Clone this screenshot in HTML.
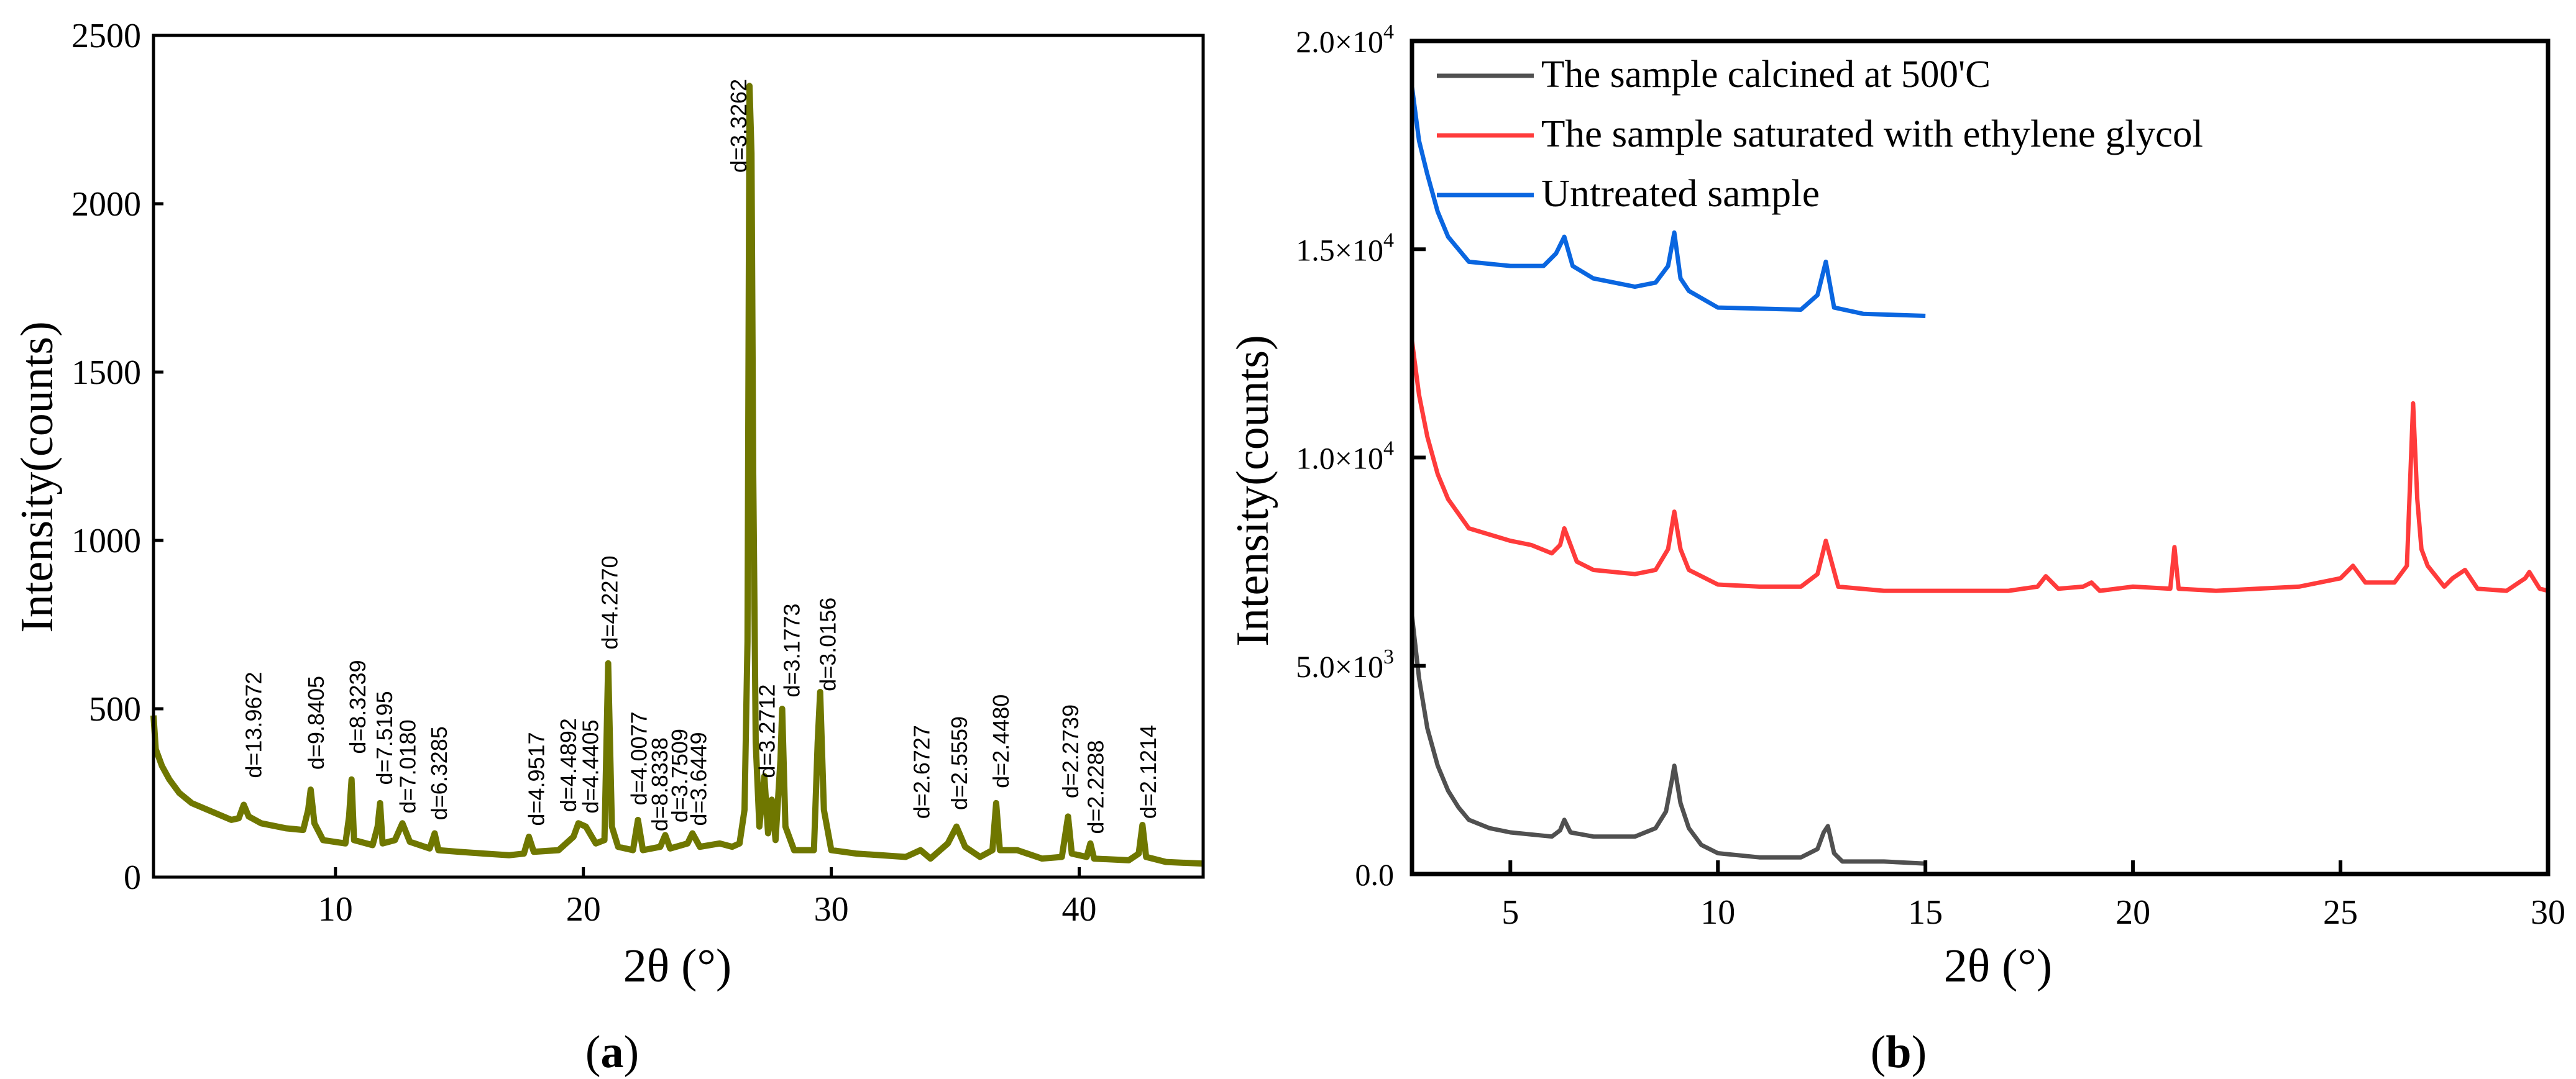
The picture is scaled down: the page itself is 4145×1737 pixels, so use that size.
<!DOCTYPE html>
<html><head><meta charset="utf-8"><style>
html,body{margin:0;padding:0;background:#fff;}
svg{display:block;}
text{font-family:"Liberation Serif",serif;fill:#000;}
</style></head><body>
<svg id="fig" width="4145" height="1737" viewBox="0 0 4145 1737" xmlns="http://www.w3.org/2000/svg">
<g id="chartA"></g>
<g id="chartB"></g>
</svg>
<script>
// ---- Chart (a) data ----
const aX = [2.66,2.75,3,3.3,3.7,4.2,5,5.8,6.1,6.3,6.5,7,8,8.7,8.9,9.0,9.15,9.5,10.4,10.55,10.65,10.75,11.5,11.7,11.8,11.9,12.4,12.7,13,13.8,14.0,14.15,15,16,17,17.6,17.8,18.0,19,19.6,19.8,20.1,20.5,20.85,21.0,21.15,21.4,22.0,22.2,22.4,23.1,23.3,23.5,24.2,24.4,24.7,25.5,26.0,26.3,26.5,26.62,26.7,26.78,26.85,26.95,27.1,27.3,27.45,27.6,27.75,27.95,28.02,28.15,28.5,29.3,29.45,29.55,29.7,30,31,32,33,33.6,34,34.7,35.05,35.4,36,36.5,36.65,36.8,37.5,38.5,39.3,39.55,39.7,40.3,40.45,40.6,42,42.4,42.55,42.7,43.5,45];
const aY = [480,380,330,290,250,220,195,170,175,215,180,160,145,140,200,260,160,110,100,180,290,110,95,150,220,100,110,160,105,85,130,80,75,70,65,70,120,75,80,120,160,150,100,110,635,150,90,80,170,80,90,125,85,100,130,90,100,90,100,200,700,2350,2150,1200,400,150,300,130,230,110,350,500,150,80,80,400,550,200,80,70,65,60,80,55,100,150,90,60,80,220,80,80,55,60,180,70,60,100,55,50,70,155,60,45,40];
const aTicksX = [10,20,30,40];
const aTicksY = [0,500,1000,1500,2000,2500];
const aLabels = ["d=13.9672","d=9.8405","d=8.3239","d=7.5195","d=7.0180","d=6.3285","d=4.9517","d=4.4892","d=4.4405","d=4.2270","d=4.0077","d=8.8338","d=3.7509","d=3.6449","d=3.3262","d=3.2712","d=3.1773","d=3.0156","d=2.6727","d=2.5559","d=2.4480","d=2.2739","d=2.2288","d=2.1214"];
const aLabelX = [6.71,9.23,10.91,11.98,12.92,14.19,18.12,19.40,20.30,21.07,22.25,23.09,23.89,24.66,26.28,27.42,28.42,29.87,33.66,35.17,36.85,39.66,40.67,42.79];
const aLabelY = [294,319,366,274,189,169,152,193,189,676,213,136,162,152,2092,294,534,552,173,199,264,234,128,173];

// ---- Chart (b) data ----
const bCalX = [2.63,2.8,3.0,3.25,3.5,3.75,4,4.5,5,6,6.2,6.3,6.45,7,8,8.5,8.75,8.9,8.95,9.1,9.3,9.6,10,11,12,12.4,12.55,12.65,12.8,13,14,15];
const bCalY = [6200,4700,3500,2600,2000,1600,1300,1100,1000,900,1050,1300,1000,900,900,1100,1500,2300,2600,1700,1100,700,500,400,400,600,1000,1150,500,300,300,250];
const bEgX = [2.63,2.8,3.0,3.25,3.5,4,5,5.5,6,6.2,6.3,6.6,7,8,8.5,8.8,8.95,9.1,9.3,10,11,12,12.4,12.6,12.9,14,17,17.7,17.9,18.2,18.8,19,19.2,20,20.9,21.0,21.1,22,24,25,25.3,25.6,26.3,26.6,26.75,26.85,26.95,27.1,27.5,27.7,28.0,28.3,29,29.45,29.55,29.8,30];
const bEgY = [12800,11500,10500,9600,9000,8300,8000,7900,7700,7900,8300,7500,7300,7200,7300,7800,8700,7800,7300,6950,6900,6900,7200,8000,6900,6800,6800,6900,7150,6850,6900,7000,6800,6900,6850,7850,6850,6800,6900,7100,7400,7000,7000,7400,11300,9000,7800,7400,6900,7100,7300,6850,6800,7100,7250,6850,6800];
const bUnX = [2.63,2.8,3.0,3.25,3.5,4,5,5.8,6.1,6.3,6.5,7,8,8.5,8.8,8.95,9.1,9.3,10,12,12.4,12.6,12.8,13.5,15];
const bUnY = [18900,17600,16800,15900,15300,14700,14600,14600,14900,15300,14600,14300,14100,14200,14600,15400,14300,14000,13600,13550,13900,14700,13600,13450,13400];
const bTicksX = [5,10,15,20,25,30];
const bTickMant = ["0.0","5.0","1.0","1.5","2.0"];
const bTickExp = ["","3","4","4","4"];
const bTicksY = [0,5000,10000,15000,20000];
const bLegend = ["The sample calcined at 500'C","The sample saturated with ethylene glycol","Untreated sample"];
const bLegendWidths = [723,1065,448];

const NS = "http://www.w3.org/2000/svg";
function mk(parent, tag, attrs, txt){
  const e = document.createElementNS(NS, tag);
  for (const k in attrs) e.setAttribute(k, attrs[k]);
  if (txt !== undefined) e.textContent = txt;
  parent.appendChild(e);
  return e;
}

// ---- Draw chart (a) ----
(function(){
  const g = document.getElementById('chartA');
  const L=247, R=1936, T=57, B=1412, xmin=2.66, xmax=45, ymax=2500;
  const sx = v => L + (v - xmin) / (xmax - xmin) * (R - L);
  const sy = v => B - v / ymax * (B - T);
  let d = aX.map((x,i)=>(i?'L':'M')+sx(x).toFixed(1)+','+sy(aY[i]).toFixed(1)).join('');
  const p = mk(g,'path',{d:d,fill:'none',stroke:'#6f7700','stroke-width':10,'stroke-linejoin':'round'});
  
  
  const fr = mk(g,'rect',{x:L,y:T,width:R-L,height:B-T,fill:'none',stroke:'#000','stroke-width':5});
  
  
  aTicksX.forEach(v=>{
    const t = mk(g,'line',{x1:sx(v),x2:sx(v),y1:B,y2:B-16,stroke:'#000','stroke-width':5});
    
    
    const l = mk(g,'text',{x:sx(v),y:B+70,'text-anchor':'middle','font-size':56},String(v));
    
    
  });
  aTicksY.forEach(v=>{
    const t = mk(g,'line',{x1:L,x2:L+16,y1:sy(v),y2:sy(v),stroke:'#000','stroke-width':5});
    
    
    const l = mk(g,'text',{x:L-20,y:sy(v)+19,'text-anchor':'end','font-size':56},String(v));
    
    
  });
  aLabels.forEach((s,i)=>{
    const x = sx(aLabelX[i]) + 12, y = sy(aLabelY[i]);
    const t = mk(g,'text',{x:x,y:y,transform:'rotate(-90 '+x+' '+y+')','font-size':36,style:'font-family:"Liberation Sans",sans-serif',fill:'#222'},s);
    
    
  });
  const yt = mk(g,'text',{x:0,y:0,transform:'translate(84 768) rotate(-90)','text-anchor':'middle','font-size':74},'Intensity(counts)');
  
  
  const xt = mk(g,'text',{x:1090,y:1580,'text-anchor':'middle','font-size':76},'2θ (°)');
  
  
  const cap = mk(g,'text',{x:985,y:1718,'text-anchor':'middle','font-size':74},'');
  
  
  mk(cap,'tspan',{},'(');
  mk(cap,'tspan',{'font-weight':'bold'},'a');
  mk(cap,'tspan',{},')');
})();

// ---- Draw chart (b) ----
(function(){
  const g = document.getElementById('chartB');
  const L=2272, R=4100, T=66, B=1407, xmin=2.63, xmax=30, ymax=20000;
  const sx = v => L + (v - xmin) / (xmax - xmin) * (R - L);
  const sy = v => B - v / ymax * (B - T);
  function series(xs, ys, color, name){
    const d = xs.map((x,i)=>(i?'L':'M')+sx(x).toFixed(1)+','+sy(ys[i]).toFixed(1)).join('');
    const p = mk(g,'path',{d:d,fill:'none',stroke:color,'stroke-width':7,'stroke-linejoin':'round'});
    
    
  }
  series(bCalX,bCalY,'#505050','calcined-series');
  series(bEgX,bEgY,'#ff3b3b','ethylene-glycol-series');
  series(bUnX,bUnY,'#0a66e0','untreated-series');
  const fr = mk(g,'rect',{x:L,y:T,width:R-L,height:B-T,fill:'none',stroke:'#000','stroke-width':7});
  
  
  bTicksX.forEach(v=>{
    const t = mk(g,'line',{x1:sx(v),x2:sx(v),y1:B,y2:B-22,stroke:'#000','stroke-width':6});
    
    
    const l = mk(g,'text',{x:sx(v),y:B+80,'text-anchor':'middle','font-size':56},String(v));
    
    
  });
  bTicksY.forEach((v,i)=>{
    const t = mk(g,'line',{x1:L,x2:L+22,y1:sy(v),y2:sy(v),stroke:'#000','stroke-width':6});
    
    
    const l = mk(g,'text',{x:2243,y:sy(v)+18,'text-anchor':'end','font-size':50},'');
    
    
    if (bTickExp[i]) {
      mk(l,'tspan',{},bTickMant[i]+'×10');
      mk(l,'tspan',{dy:-22,'font-size':34},bTickExp[i]);
    } else {
      mk(l,'tspan',{},bTickMant[i]);
    }
  });
  const cols = ['#505050','#ff3b3b','#0a66e0'];
  bLegend.forEach((s,i)=>{
    const y = 122 + i*96;
    const ln = mk(g,'line',{x1:2312,x2:2468,y1:y,y2:y,stroke:cols[i],'stroke-width':7});
    
    
    const t = mk(g,'text',{x:2480,y:y+18,'font-size':62,textLength:bLegendWidths[i],lengthAdjust:'spacingAndGlyphs'},s);
    
    
  });
  const yt = mk(g,'text',{x:0,y:0,transform:'translate(2040 790) rotate(-90)','text-anchor':'middle','font-size':74},'Intensity(counts)');
  
  
  const xt = mk(g,'text',{x:3215,y:1580,'text-anchor':'middle','font-size':76},'2θ (°)');
  
  
  const cap = mk(g,'text',{x:3055,y:1718,'text-anchor':'middle','font-size':74},'');
  
  
  mk(cap,'tspan',{},'(');
  mk(cap,'tspan',{'font-weight':'bold'},'b');
  mk(cap,'tspan',{},')');
})();
</script>
</body></html>
